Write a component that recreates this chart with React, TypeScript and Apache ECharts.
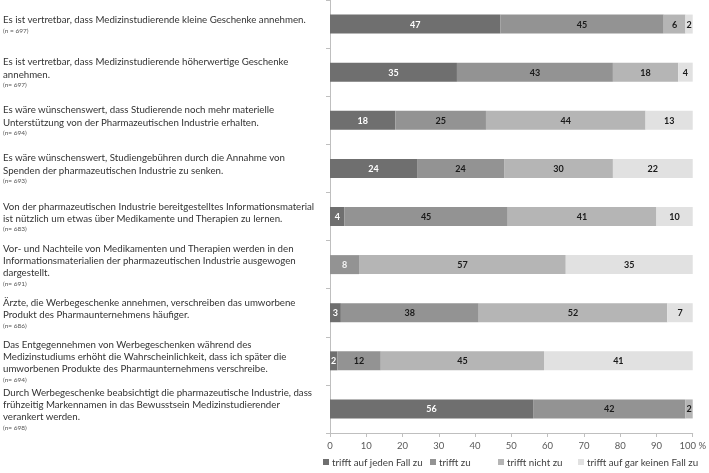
import React, { useEffect, useRef } from 'react';
import * as echarts from 'echarts';

const categories = [
  'Es ist vertretbar, dass Medizinstudierende kleine Geschenke annehmen.',
  'Es ist vertretbar, dass Medizinstudierende höherwertige Geschenke\nannehmen.',
  'Es wäre wünschenswert, dass Studierende noch mehr materielle\nUnterstützung von der Pharmazeutischen Industrie erhalten.',
  'Es wäre wünschenswert, Studiengebühren durch die Annahme von\nSpenden der pharmazeutischen Industrie zu senken.',
  'Von der pharmazeutischen Industrie bereitgestelltes Informationsmaterial\nist nützlich um etwas über Medikamente und Therapien zu lernen.',
  'Vor- und Nachteile von Medikamenten und Therapien werden in den\nInformationsmaterialien der pharmazeutischen Industrie ausgewogen\ndargestellt.',
  'Ärzte, die Werbegeschenke annehmen, verschreiben das umworbene\nProdukt des Pharmaunternehmens häufiger.',
  'Das Entgegennehmen von Werbegeschenken während des\nMedizinstudiums erhöht die Wahrscheinlichkeit, dass ich später die\numworbenen Produkte des Pharmaunternehmens verschreibe.',
  'Durch Werbegeschenke beabsichtigt die pharmazeutische Industrie, dass\nfrühzeitig Markennamen in das Bewusstsein Medizinstudierender\nverankert werden.',
];

const sampleSizes = ['(n = 697)', '(n= 697)', '(n= 694)', '(n= 693)', '(n= 683)', '(n= 691)', '(n= 686)', '(n= 694)', '(n= 698)'];

const seriesNames = ['trifft auf jeden Fall zu', 'trifft zu', 'trifft nicht zu', 'trifft auf gar keinen Fall zu'];

const trifftAufJedenFallZu = [47, 35, 18, 24, 4, null, 3, 2, 56];
const trifftZu = [45, 43, 25, 24, 45, 8, 38, 12, 42];
const trifftNichtZu = [6, 18, 44, 30, 41, 57, 52, 45, 2];
const trifftGarNicht = [2, 4, 13, 22, 10, 35, 7, 41, null];

const xTicks = [0, 10, 20, 30, 40, 50, 60, 70, 80, 90, 100];

const colors = ['#6f6f6f', '#939393', '#b5b5b5', '#e1e1e1'];
const labelColors = ['#ffffff', '#1a1a1a', '#1a1a1a', '#1a1a1a'];
// cells whose label is drawn light in the original (series index, row index)
const lightLabelCells: [number, number][] = [[1, 5]];
// left edge of each legend entry
const legendLefts = [318, 425, 493, 573];

const FONT = 'Lato, "Open Sans", sans-serif';

export default function App() {
  const ref = useRef<HTMLDivElement>(null);
  useEffect(() => {
    const chart = echarts.init(ref.current!, null, { renderer: 'svg' });
    const allValues = [trifftAufJedenFallZu, trifftZu, trifftNichtZu, trifftGarNicht];
    const series = allValues.map((vals, si) => ({
      name: seriesNames[si],
      type: 'bar',
      stack: 'total',
      barWidth: 19,
      itemStyle: { color: colors[si] },
      label: {
        show: true,
        position: 'inside',
        color: labelColors[si],
        fontFamily: FONT,
        fontWeight: 'bold',
        fontSize: 9,
        formatter: (p: any) => (p.value ? String(p.value) : ''),
      },
      data: vals.map((v, ri) => {
        const light = lightLabelCells.some(([s, r]) => s === si && r === ri);
        return light ? { value: v, label: { color: '#f4f4f4' } } : v;
      }),
    }));

    const legends = seriesNames.map((name, i) => ({
      bottom: 1,
      left: legendLefts[i],
      icon: 'rect',
      itemWidth: 6,
      itemHeight: 6,
      itemGap: 0,
      textStyle: { fontSize: 9.8, color: '#404040', fontFamily: FONT, padding: [0, 0, 0, -2] },
      data: [name],
    }));

    chart.setOption({
      animation: false,
      textStyle: { fontFamily: FONT },
      grid: { left: 327, right: 16, top: 0, bottom: 40, containLabel: false },
      legend: legends,
      xAxis: {
        type: 'value',
        min: xTicks[0],
        max: xTicks[xTicks.length - 1],
        interval: 10,
        axisLine: { show: true, lineStyle: { color: '#bfbfbf' } },
        axisTick: { show: true, length: 4, lineStyle: { color: '#bfbfbf' } },
        splitLine: { show: false },
        axisLabel: {
          fontSize: 9.5,
          color: '#595959',
          margin: 7,
          fontFamily: FONT,
          formatter: (v: number) => (v === 100 ? '100 %' : String(v)),
        },
      },
      yAxis: {
        type: 'category',
        inverse: true,
        data: categories,
        axisLine: { show: true, lineStyle: { color: '#bfbfbf' } },
        axisTick: { show: true, length: 4, lineStyle: { color: '#bfbfbf' } },
        axisLabel: {
          align: 'left',
          margin: 327,
          formatter: (value: string, index: number) => `{a|${value}}\n{b|${sampleSizes[index]}}`,
          rich: {
            a: { fontSize: 9.7, lineHeight: 12.3, color: '#333333', fontFamily: FONT },
            b: { fontSize: 6.5, lineHeight: 9.5, color: '#555555', fontFamily: FONT },
          },
        },
      },
      series,
    });
    return () => chart.dispose();
  }, []);
  return <div ref={ref} style={{ position: 'fixed', left: 0, top: 0, width: 709, height: 473 }} />;
}
